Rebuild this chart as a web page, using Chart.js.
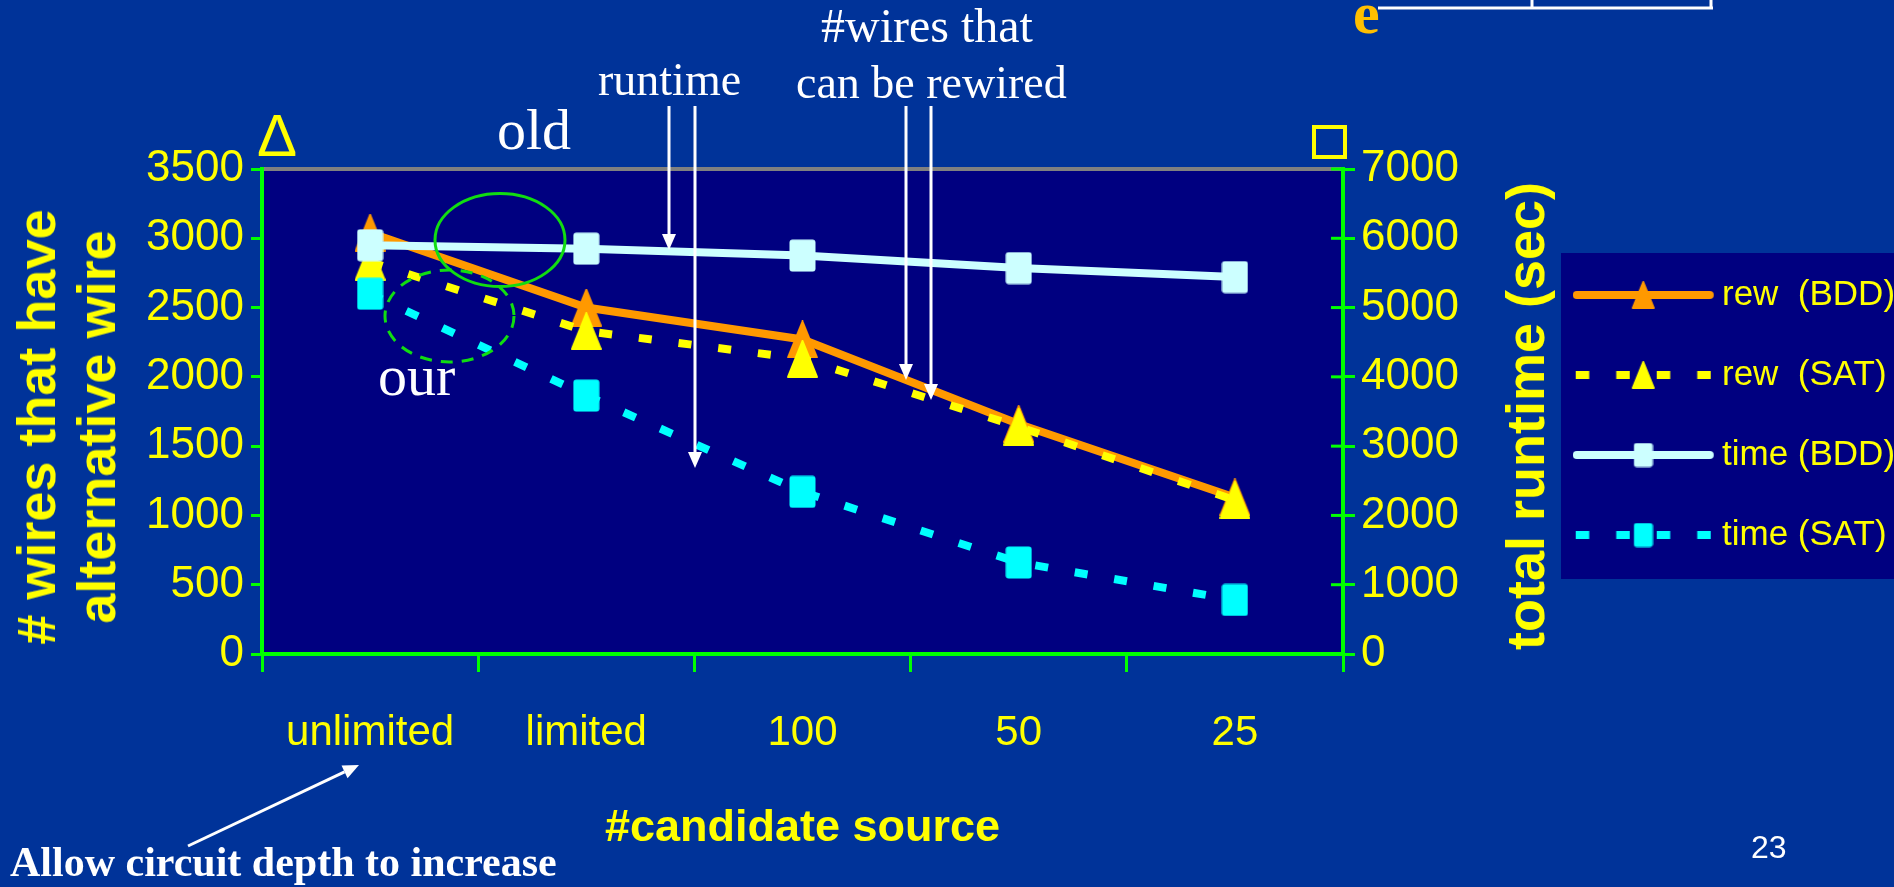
<!DOCTYPE html>
<html lang="en">
<head>
<meta charset="utf-8">
<title>#candidate source</title>
<script src="https://cdn.jsdelivr.net/npm/chart.js@4.4.1/dist/chart.umd.min.js"></script>
<style>
  html, body { margin: 0; padding: 0; background: #003399; overflow: hidden; }
  #slide { position: relative; width: 1894px; height: 887px; overflow: hidden; background: #003399; }
  #chartCanvas { position: absolute; left: 0; top: 0; }
  .txt { position: absolute; white-space: nowrap; line-height: 1; }
  .serif { font-family: 'Liberation Serif', 'DejaVu Serif', serif; color: #ffffff; }
  .ytitle { font-family: 'Liberation Sans', Arial, sans-serif; font-weight: bold; font-size: 54px;
            color: #ffff00; line-height: 60px; text-align: center;
            transform: translate(-50%, -50%) rotate(-90deg); }
</style>
</head>
<body>
<div id="slide">
  <canvas id="chartCanvas" width="1894" height="887"></canvas>

  <div class="txt ytitle" style="left:66px; top:427px;">#&nbsp;wires that have<br>alternative wire</div>
  <div class="txt ytitle" style="left:1525px; top:416px;">total runtime (sec)</div>

  <div class="txt" style="left:257px; top:101px; font:60px 'Liberation Sans', sans-serif; color:#ffff00;">&Delta;</div>
  <div class="txt" style="left:1312px; top:125px; width:35px; height:34px; box-sizing:border-box; border:4px solid #ffff00;"></div>
  <div class="txt" style="left:1353px; top:-21px; font:bold 60px 'Liberation Serif', serif; color:#ffbf00;">e</div>

  <div class="txt serif" style="left:497px; top:101px; font-size:58px;">old</div>
  <div class="txt serif" style="left:378px; top:347px; font-size:58px;">our</div>
  <div class="txt serif" style="left:598px; top:57px; font-size:46px;">runtime</div>
  <div class="txt serif" style="left:821px; top:2px; font-size:48px;">#wires that</div>
  <div class="txt serif" style="left:796px; top:60px; font-size:46px;">can be rewired</div>
  <div class="txt serif" style="left:10px; top:841px; font-size:42px; font-weight:bold;">Allow circuit depth to increase</div>
  <div class="txt" style="left:1751px; top:829px; font:32px 'Liberation Sans', sans-serif; color:#ffffff;">23</div>
</div>

<script>
// data
const categories = ["unlimited", "limited", "100", "50", "25"];
const rewBDD = [3040, 2500, 2270, 1660, 1130];
const rewSAT = [2830, 2330, 2130, 1640, 1110];
const timeBDD = [5900, 5850, 5750, 5570, 5440];
const timeSAT = [5200, 3730, 2340, 1320, 780];
const seriesNames = ["rew  (BDD)", "rew  (SAT)", "time (BDD)", "time (SAT)"];
const rewAxisMax = 3500;
const rewAxisStep = 500;
const timeAxisMax = 7000;
const timeAxisStep = 1000;

const ORANGE = "#FF9900";
const YELLOW = "#FFFF00";
const PALE = "#CCFFFF";
const CYAN = "#00FFFF";
const GREEN = "#00FF00";
const NAVY = "#000080";
const sans = "'Liberation Sans', Arial, sans-serif";

function triMark(w, h, color) {
  const c = document.createElement("canvas");
  c.width = w;
  c.height = h;
  const g = c.getContext("2d");
  g.fillStyle = color;
  g.strokeStyle = color;
  g.lineWidth = 2;
  g.lineJoin = "round";
  g.beginPath();
  g.moveTo(w / 2, 1);
  g.lineTo(w - 1, h - 1);
  g.lineTo(1, h - 1);
  g.closePath();
  g.fill();
  g.stroke();
  return c;
}
function boxMark(w, h, color) {
  const c = document.createElement("canvas");
  c.width = w;
  c.height = h;
  const g = c.getContext("2d");
  g.fillStyle = color;
  g.beginPath();
  g.roundRect(0.5, 0.5, w - 1, h - 1, 3);
  g.fill();
  return c;
}
// legend sample: line with the marker in the middle (drawn from x=0 to 141)
function legendSample(color, dashed, mark) {
  const c = document.createElement("canvas");
  c.width = 165;
  c.height = 44;
  const g = c.getContext("2d");
  g.strokeStyle = color;
  g.lineWidth = 8;
  if (dashed) {
    g.setLineDash([13.5, 27]);
    g.lineDashOffset = -3;
    g.lineCap = "butt";
  } else {
    g.lineCap = "round";
  }
  g.beginPath();
  g.moveTo(dashed ? 0 : 4, 22);
  g.lineTo(dashed ? 141 : 137, 22);
  g.stroke();
  g.drawImage(mark, 70.5 - mark.width / 2, 22 - mark.height / 2);
  return c;
}

const legendSamples = [
  legendSample(ORANGE, false, triMark(23, 28, ORANGE)),
  legendSample(YELLOW, true, triMark(23, 28, YELLOW)),
  legendSample(PALE, false, boxMark(20, 25, PALE)),
  legendSample(CYAN, true, boxMark(20, 25, CYAN)),
];

function arrow(ctx, x1, y1, x2, y2) {
  const ang = Math.atan2(y2 - y1, x2 - x1);
  const head = 16, half = 7;
  const bx = x2 - head * Math.cos(ang);
  const by = y2 - head * Math.sin(ang);
  ctx.beginPath();
  ctx.moveTo(x1, y1);
  ctx.lineTo(bx, by);
  ctx.stroke();
  ctx.beginPath();
  ctx.moveTo(x2, y2);
  ctx.lineTo(bx - half * Math.sin(ang), by + half * Math.cos(ang));
  ctx.lineTo(bx + half * Math.sin(ang), by - half * Math.cos(ang));
  ctx.closePath();
  ctx.fill();
}

// plot panel, legend panel, top border, plus the slide's hand drawn notes
const decor = {
  id: "decor",
  beforeDraw(chart) {
    const { ctx, chartArea: a, legend } = chart;
    ctx.save();
    ctx.fillStyle = NAVY;
    ctx.fillRect(a.left, a.top, a.right - a.left, a.bottom - a.top);
    const boxes = legend.legendHitBoxes;
    const first = boxes[0], last = boxes[boxes.length - 1];
    const top = first.top + first.height / 2 - 42;
    const bottom = last.top + last.height / 2 + 44;
    ctx.fillRect(legend.left, top, chart.width - legend.left, bottom - top);
    ctx.strokeStyle = "#808080";
    ctx.lineWidth = 4;
    ctx.beginPath();
    ctx.moveTo(a.left, a.top);
    ctx.lineTo(a.right, a.top);
    ctx.stroke();
    ctx.restore();
  },
  afterDraw(chart) {
    const { ctx, chartArea: a } = chart;
    const yT = chart.scales.yTime;
    ctx.save();
    // right axis ticks also cross into the plot
    ctx.strokeStyle = GREEN;
    ctx.lineWidth = 3;
    yT.ticks.forEach((t) => {
      const y = yT.getPixelForValue(t.value);
      ctx.beginPath();
      ctx.moveTo(a.right - 12, y);
      ctx.lineTo(a.right, y);
      ctx.stroke();
    });
    // green ellipses (old / our)
    ctx.strokeStyle = "#11DD11";
    ctx.lineWidth = 3;
    ctx.beginPath();
    ctx.ellipse(500, 240, 65, 46.5, 0, 0, Math.PI * 2);
    ctx.stroke();
    ctx.setLineDash([12, 9]);
    ctx.beginPath();
    ctx.ellipse(449.5, 316, 64.5, 46, 0, 0, Math.PI * 2);
    ctx.stroke();
    ctx.setLineDash([]);
    // white arrows
    ctx.strokeStyle = "#FFFFFF";
    ctx.fillStyle = "#FFFFFF";
    ctx.lineWidth = 3;
    arrow(ctx, 669, 106, 669, 250);
    arrow(ctx, 695, 106, 695, 468);
    arrow(ctx, 906, 106, 906, 380);
    arrow(ctx, 931, 106, 931, 400);
    arrow(ctx, 188, 846, 359, 765);
    // bit of the table frame from the slide above
    ctx.beginPath();
    ctx.moveTo(1378, 8);
    ctx.lineTo(1713, 8);
    ctx.moveTo(1532, 0);
    ctx.lineTo(1532, 8);
    ctx.moveTo(1711, 0);
    ctx.lineTo(1711, 8);
    ctx.stroke();
    ctx.restore();
  },
};

const plain = (v) => String(v);

const chart = new Chart(document.getElementById("chartCanvas"), {
  type: "line",
  data: {
    labels: categories,
    datasets: [
      {
        label: seriesNames[0],
        data: rewBDD,
        yAxisID: "yRew",
        borderColor: ORANGE,
        borderWidth: 8,
        pointStyle: triMark(31, 38, ORANGE),
        pointRadius: 16,
        order: 4,
      },
      {
        label: seriesNames[1],
        data: rewSAT,
        yAxisID: "yRew",
        borderColor: YELLOW,
        borderWidth: 8,
        borderDash: [13, 27],
        pointStyle: triMark(31, 38, YELLOW),
        pointRadius: 16,
        order: 3,
      },
      {
        label: seriesNames[2],
        data: timeBDD,
        yAxisID: "yTime",
        borderColor: PALE,
        borderWidth: 8,
        pointStyle: boxMark(27, 33, PALE),
        pointRadius: 16,
        order: 2,
      },
      {
        label: seriesNames[3],
        data: timeSAT,
        yAxisID: "yTime",
        borderColor: CYAN,
        borderWidth: 8,
        borderDash: [13, 27],
        pointStyle: boxMark(27, 33, CYAN),
        pointRadius: 16,
        order: 1,
      },
    ],
  },
  options: {
    responsive: false,
    animation: false,
    events: [],
    layout: { padding: { top: 169, left: 0, right: 0, bottom: 0 } },
    plugins: {
      tooltip: { enabled: false },
      legend: {
        position: "right",
        align: "start",
        maxWidth: 333,
        title: { display: true, text: " ", font: { size: 10 }, padding: { top: 51.5, bottom: 0 } },
        labels: {
          usePointStyle: true,
          pointStyleWidth: 98.5,
          padding: 45,
          color: YELLOW,
          font: { family: sans, size: 35 },
          generateLabels: (ch) =>
            ch.data.datasets.map((ds, i) => ({
              text: ds.label,
              datasetIndex: i,
              fontColor: YELLOW,
              fillStyle: ds.borderColor,
              strokeStyle: ds.borderColor,
              lineWidth: 0,
              pointStyle: legendSamples[i],
              hidden: false,
            })),
        },
      },
    },
    scales: {
      x: {
        offset: true,
        grid: { offset: true, drawOnChartArea: false, drawTicks: true, tickLength: 18, color: GREEN, lineWidth: 3 },
        border: { color: GREEN, width: 4 },
        ticks: { color: YELLOW, font: { family: sans, size: 42 }, padding: 36, maxRotation: 0, autoSkip: false },
        title: {
          display: true,
          text: "#candidate source",
          color: YELLOW,
          font: { family: sans, size: 45, weight: "bold" },
          padding: { top: 0, bottom: 31 },
        },
        afterFit: (s) => { s.height = 233; },
      },
      yRew: {
        position: "left",
        min: 0,
        max: rewAxisMax,
        ticks: { stepSize: rewAxisStep, autoSkip: false, callback: plain, color: YELLOW, font: { family: sans, size: 44 }, padding: 7 },
        grid: { drawOnChartArea: false, tickLength: 11, color: GREEN, lineWidth: 3 },
        border: { color: GREEN, width: 4 },
        afterFit: (s) => { s.width = 262; },
      },
      yTime: {
        position: "right",
        min: 0,
        max: timeAxisMax,
        ticks: { stepSize: timeAxisStep, autoSkip: false, callback: plain, color: YELLOW, font: { family: sans, size: 44 }, padding: 6 },
        grid: { drawOnChartArea: false, tickLength: 12, color: GREEN, lineWidth: 3 },
        border: { color: GREEN, width: 4 },
        afterFit: (s) => { s.width = 218; },
      },
    },
  },
  plugins: [decor],
});
</script>
</body>
</html>
